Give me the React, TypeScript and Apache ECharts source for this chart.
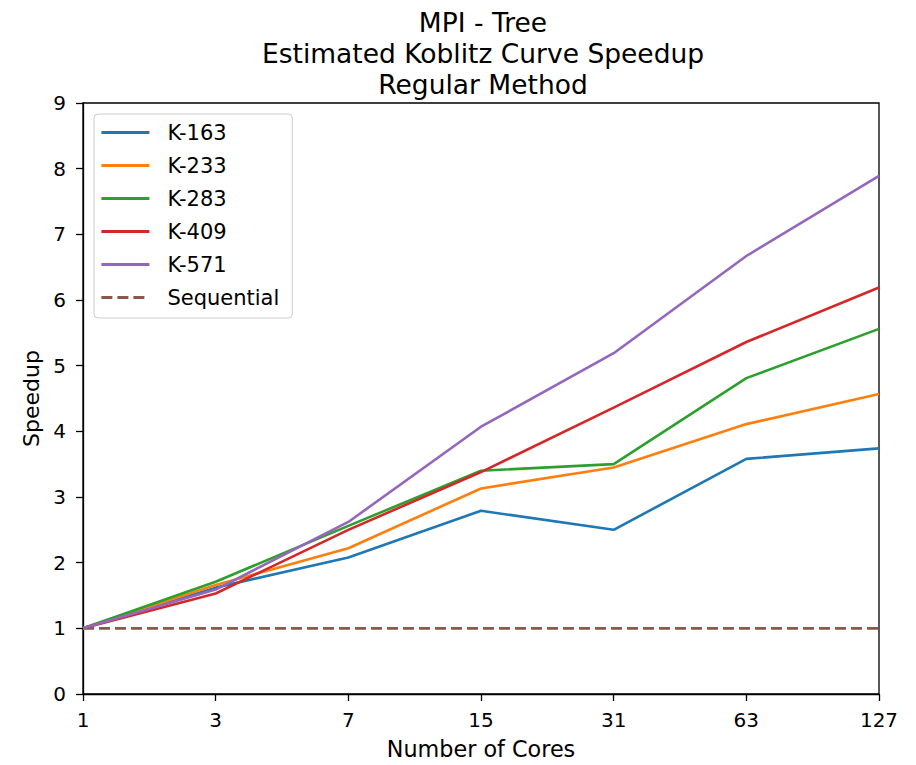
import React, { useEffect, useRef } from "react";
import * as echarts from "echarts";

const cores = ["1", "3", "7", "15", "31", "63", "127"];
const k163 = [1.0, 1.62, 2.08, 2.79, 2.5, 3.58, 3.74];
const k233 = [1.0, 1.66, 2.22, 3.13, 3.45, 4.11, 4.57];
const k283 = [1.0, 1.71, 2.56, 3.4, 3.5, 4.81, 5.56];
const k409 = [1.0, 1.53, 2.5, 3.38, 4.36, 5.36, 6.19];
const k571 = [1.0, 1.59, 2.62, 4.07, 5.19, 6.67, 7.89];
const sequential = [1, 1, 1, 1, 1, 1, 1];
const yTicks = [0, 1, 2, 3, 4, 5, 6, 7, 8, 9];

const FONT = "DejaVu Sans";

export default function App() {
  const ref = useRef<HTMLDivElement>(null);
  useEffect(() => {
    if (!ref.current) return;
    const chart = echarts.init(ref.current, undefined, { renderer: "svg" });
    const mk = (name: string, data: number[], color: string, dashed = false) => ({
      name,
      type: "line",
      data,
      symbol: "none",
      showSymbol: false,
      color,
      lineStyle: { color, width: 2.6, type: dashed ? [11, 5] : "solid" },
      itemStyle: { color },
      z: dashed ? 1 : 2,
    });
    chart.setOption({
      animation: false,
      backgroundColor: "#ffffff",
      textStyle: { fontFamily: FONT, color: "#000" },
      title: {
        text: "MPI - Tree\nEstimated Koblitz Curve Speedup\nRegular Method",
        left: 478,
        top: 2,
        textAlign: "center",
        textStyle: { fontFamily: FONT, fontSize: 26.5, fontWeight: "normal", color: "#000", lineHeight: 31 },
      },
      grid: {
        left: 83,
        right: 37,
        top: 103,
        bottom: 68,
        show: true,
        borderColor: "#000",
        borderWidth: 1.3,
        backgroundColor: "transparent",
      },
      legend: {
        orient: "vertical",
        left: 94,
        top: 114,
        padding: [8, 13, 10, 6],
        itemWidth: 48,
        itemHeight: 14,
        itemGap: 12,
        borderColor: "#cccccc",
        borderWidth: 1,
        borderRadius: 4,
        backgroundColor: "rgba(255,255,255,0.85)",
        itemStyle: { opacity: 0 },
        lineStyle: { width: 2.8 },
        textStyle: { fontFamily: FONT, fontSize: 21, color: "#000", lineHeight: 21, padding: [0, 0, 0, 13] },
        data: ["K-163", "K-233", "K-283", "K-409", "K-571", "Sequential"],
      },
      xAxis: {
        type: "category",
        data: cores,
        boundaryGap: false,
        name: "Number of Cores",
        nameLocation: "middle",
        nameGap: 44,
        nameTextStyle: { fontFamily: FONT, fontSize: 22.3, color: "#000" },
        axisLine: { lineStyle: { color: "#000", width: 1.3 } },
        axisTick: { show: true, length: 7, alignWithLabel: true, lineStyle: { color: "#000", width: 1.3 } },
        axisLabel: { fontFamily: FONT, fontSize: 20, color: "#000", margin: 16 },
        splitLine: { show: false },
      },
      yAxis: {
        type: "value",
        min: yTicks[0],
        max: yTicks[yTicks.length - 1],
        interval: 1,
        name: "Speedup",
        nameLocation: "middle",
        nameGap: 40,
        nameTextStyle: { fontFamily: FONT, fontSize: 22, color: "#000" },
        axisLine: { show: true, lineStyle: { color: "#000", width: 1.3 } },
        axisTick: { show: true, length: 7, lineStyle: { color: "#000", width: 1.3 } },
        axisLabel: { fontFamily: FONT, fontSize: 20, color: "#000", margin: 17 },
        splitLine: { show: false },
      },
      series: [
        mk("K-163", k163, "#1f77b4"),
        mk("K-233", k233, "#ff7f0e"),
        mk("K-283", k283, "#2ca02c"),
        mk("K-409", k409, "#d62728"),
        mk("K-571", k571, "#9467bd"),
        mk("Sequential", sequential, "#8c564b", true),
      ],
    });
    return () => chart.dispose();
  }, []);
  return <div ref={ref} style={{ width: 916, height: 765, position: "absolute", left: 0, top: 0 }} />;
}
